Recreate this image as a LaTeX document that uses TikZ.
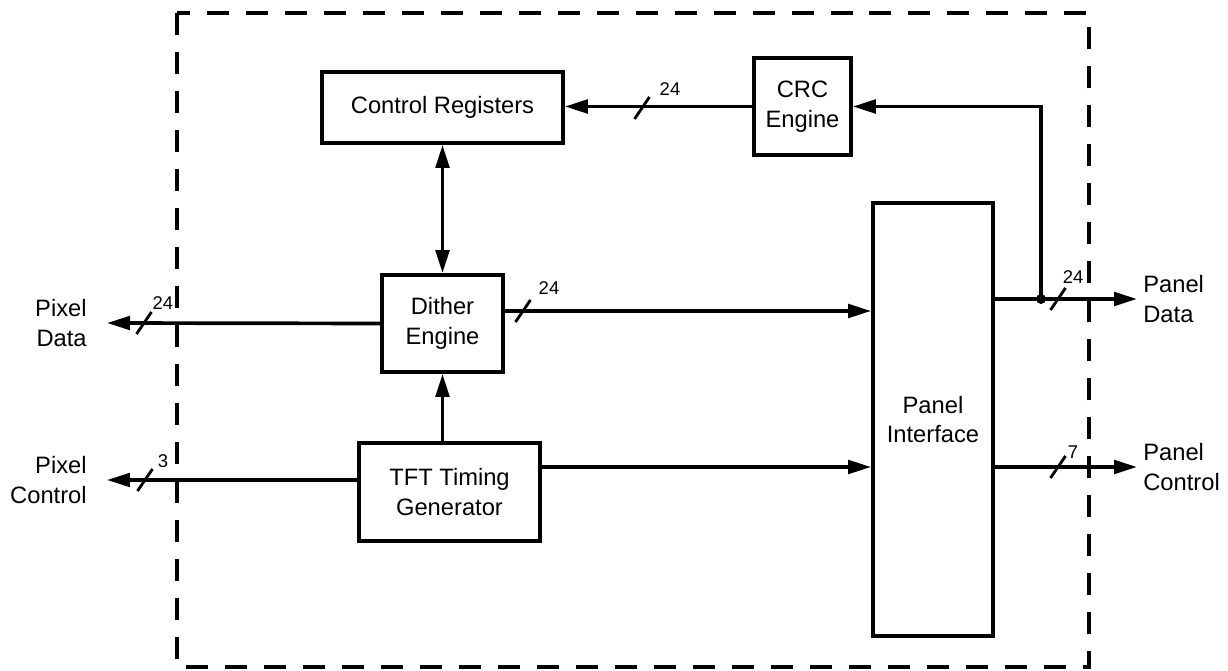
\documentclass[tikz,border=0pt]{standalone}
\usepackage{fontspec}
\setmainfont{Liberation Sans}
\usetikzlibrary{positioning,arrows.meta}

\begin{document}
\begin{tikzpicture}[
    x=0.02cm, y=-0.02cm,
    block/.style={draw, line width=2.1pt, align=center, inner sep=0pt, font=\fontsize{13.5}{17}\selectfont},
    arr/.style={-{Triangle[length=4.6mm, width=2.7mm]}, line width=2.1pt},
    biarr/.style={{Triangle[length=4.6mm, width=2.7mm]}-{Triangle[length=4.6mm, width=2.7mm]}, line width=2.1pt},
    frame/.style={line width=2.1pt, dash pattern=on 0.44cm off 0.34cm},
    slash/.style={line width=1.6pt},
    buslbl/.style={inner sep=0pt, font=\fontsize{10.5}{12}\selectfont},
    iolbl/.style={inner sep=0pt, font=\fontsize{13.5}{17}\selectfont}
  ]
    \useasboundingbox (0,0) rectangle (1228,671);

    % dashed outline of the controller
    \draw[frame] (177,13) rectangle (1089,667);

    % blocks
    \node[block, minimum width=4.82cm, minimum height=1.42cm] (ctrl) at (442.5,107.5) {Control Registers};
    \node[block, minimum width=1.94cm, minimum height=1.94cm] (crc) at (802.5,106.5) {CRC\\Engine};
    \node[block, minimum width=2.42cm, minimum height=1.94cm] (dither) at (442.5,323.5) {Dither\\Engine};
    \node[block, minimum width=3.62cm, minimum height=1.96cm] (tft) at (449.5,492) {TFT Timing\\Generator};
    \node[block, minimum width=2.4cm, minimum height=8.66cm] (panel) at (933,419.5) {Panel\\Interface};

    % outside ends
    \coordinate (pdata) at (107,323);
    \coordinate (pctrl) at (107,480);
    \coordinate (pnldata) at (1137,299);
    \coordinate (pnlctrl) at (1137,467);
    \coordinate (jn) at (1041,299);

    \node[iolbl, align=right, left=0.4cm of pdata] (pdatalbl) {Pixel\\Data};
    \node[iolbl, align=right, left=0.4cm of pctrl] (pctrllbl) {Pixel\\Control};
    \node[iolbl, align=left, right=0.12cm of pnldata] (pnldatalbl) {Panel\\Data};
    \node[iolbl, align=left, right=0.12cm of pnlctrl] (pnlctrllbl) {Panel\\Control};

    % connections
    \draw[arr] (crc.west) -- (crc.west -| ctrl.east);
    \draw[biarr] (ctrl) -- (dither);
    \draw[arr] (tft.north -| dither.south) -- (dither.south);
    \draw[arr] (dither.west) -- (pdata);
    \draw[arr] ([yshift=0.25cm]dither.east) coordinate (dout) -- (dout -| panel.west);
    \draw[arr] ([yshift=0.24cm]tft.west) -- (pctrl);
    \draw[arr] ([yshift=0.5cm]tft.east) coordinate (tout) -- (tout -| panel.west);
    \draw[arr] (panel.east |- pnldata) -- (pnldata);
    \draw[arr] (panel.east |- pnlctrl) -- (pnlctrl);
    \draw[arr] (jn) |- (crc.east);
    \fill (jn) circle [radius=0.1cm];

    % bus widths
    \draw[slash] (642,108) +(-7.5,11) -- +(7.5,-11);
    \node[buslbl] (bcrc) at (670,89) {24};
    \draw[slash] (144,323) +(-7.5,11) -- +(7.5,-11);
    \node[buslbl] (bpdata) at (163,303) {24};
    \draw[slash] (523,311) +(-7.5,11) -- +(7.5,-11);
    \node[buslbl] (bdout) at (549,288) {24};
    \draw[slash] (145,480) +(-7.5,11) -- +(7.5,-11);
    \node[buslbl] (bpctrl) at (163,461) {3};
    \draw[slash] (1058,299) +(-7.5,11) -- +(7.5,-11);
    \node[buslbl] (bpnldata) at (1073,277) {24};
    \draw[slash] (1058,467) +(-7.5,11) -- +(7.5,-11);
    \node[buslbl] (bpnlctrl) at (1073,452) {7};
  \end{tikzpicture}
\end{document}
